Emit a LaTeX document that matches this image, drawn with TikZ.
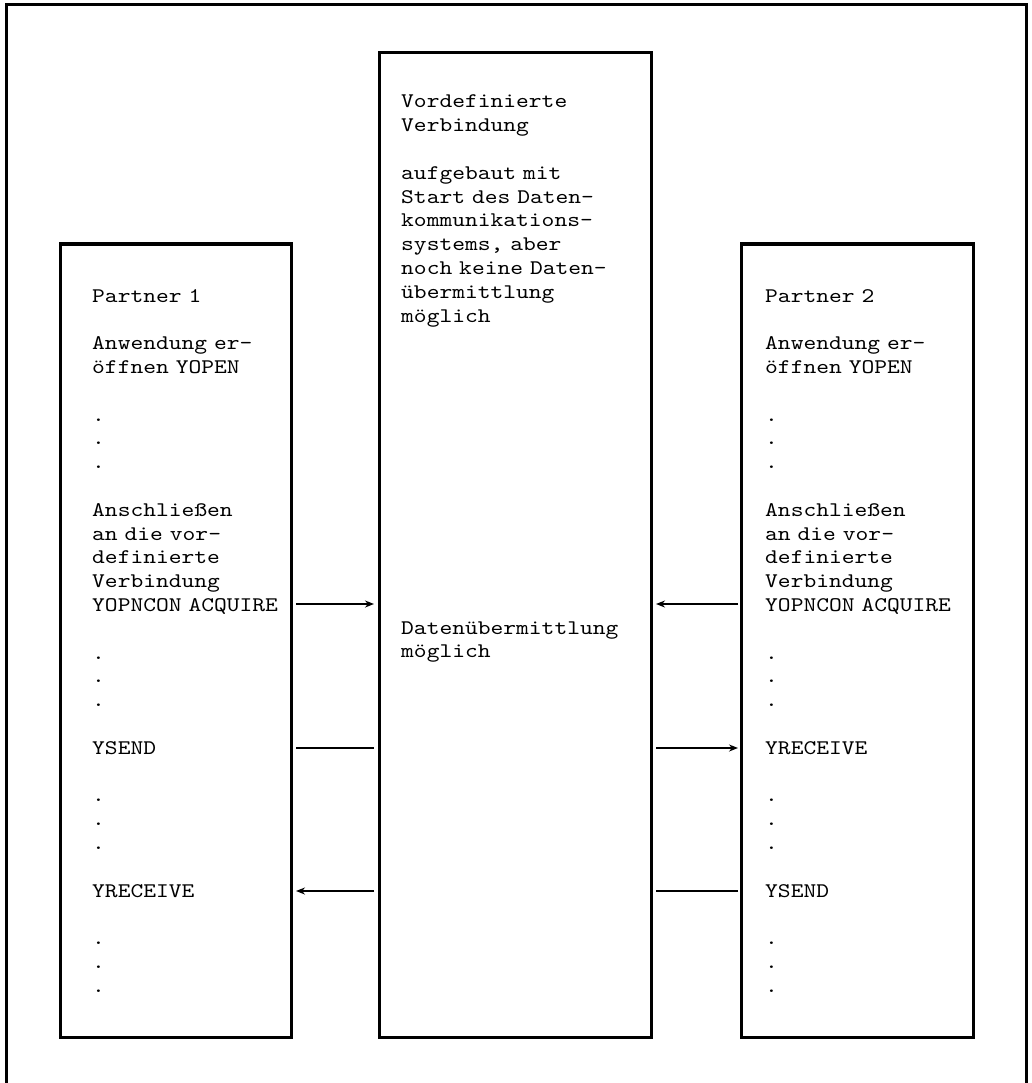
\documentclass[tikz,border=0pt]{standalone}
\usepackage{fontspec}
\setmonofont{lmmono10-regular.otf}[FakeStretch=1.17]
\usetikzlibrary{arrows.meta,calc}
\newcommand{\emptyrow}{\\[\baselineskip]}
\begin{document}
\begin{tikzpicture}[x=1pt,y=-1pt,
  frame/.style={line width=3pt},
  column/.style={draw,line width=3pt,rectangle,anchor=north west,inner sep=0pt,outer sep=0pt},
  txt/.style={anchor=base west,inner sep=0pt,text width=250pt,align=left,
    font=\ttfamily\fontsize{20.8}{23.8}\selectfont},
  link/.style={line width=1.5pt},
  tolink/.style={link,-{Stealth[length=9pt,width=7pt]}}
]
\useasboundingbox (0,0) rectangle (1032,1083);
% outer frame, open at the bottom
\draw[frame] (6,1083) -- (6,5) -- (1026,5) -- (1026,1083);

% the three columns
\node[column,minimum width=231pt,minimum height=793pt] (p1) at (60,244) {};
\node[column,minimum width=272pt,minimum height=984pt] (mid) at (379,53) {};
\node[column,minimum width=232pt,minimum height=793pt] (p2) at (741,244) {};

% column texts
\node[txt] (t1) at (92,302) {Partner 1\emptyrow Anwendung er-\\öffnen YOPEN\emptyrow .\\.\\.\emptyrow Anschließen\\an die vor-\\definierte\\Verbindung\\YOPNCON ACQUIRE\emptyrow .\\.\\.\emptyrow YSEND\emptyrow .\\.\\.\emptyrow YRECEIVE\emptyrow .\\.\\.};
\node[txt] (t2) at (765,302) {Partner 2\emptyrow Anwendung er-\\öffnen YOPEN\emptyrow .\\.\\.\emptyrow Anschließen\\an die vor-\\definierte\\Verbindung\\YOPNCON ACQUIRE\emptyrow .\\.\\.\emptyrow YRECEIVE\emptyrow .\\.\\.\emptyrow YSEND\emptyrow .\\.\\.};
\node[txt] (tm) at (401,108) {Vordefinierte\\Verbindung\emptyrow aufgebaut mit\\Start des Daten-\\kommunikations-\\systems, aber\\noch keine Daten-\\übermittlung\\möglich};
\node[txt] (tm2) at (401,634) {Datenübermittlung\\möglich};

% message rows
\coordinate (r1) at (0,604);
\coordinate (r2) at (0,748);
\coordinate (r3) at (0,891);

\draw[tolink] ($(p1.east |- r1)+(5,0)$) -- ($(mid.west |- r1)+(-5,0)$);
\draw[tolink] ($(p2.west |- r1)+(-3,0)$) -- ($(mid.east |- r1)+(5,0)$);
\draw[link] ($(p1.east |- r2)+(5,0)$) -- ($(mid.west |- r2)+(-5,0)$);
\draw[tolink] ($(mid.east |- r2)+(5,0)$) -- ($(p2.west |- r2)+(-3,0)$);
\draw[tolink] ($(mid.west |- r3)+(-5,0)$) -- ($(p1.east |- r3)+(5,0)$);
\draw[link] ($(p2.west |- r3)+(-3,0)$) -- ($(mid.east |- r3)+(5,0)$);
\end{tikzpicture}
\end{document}
